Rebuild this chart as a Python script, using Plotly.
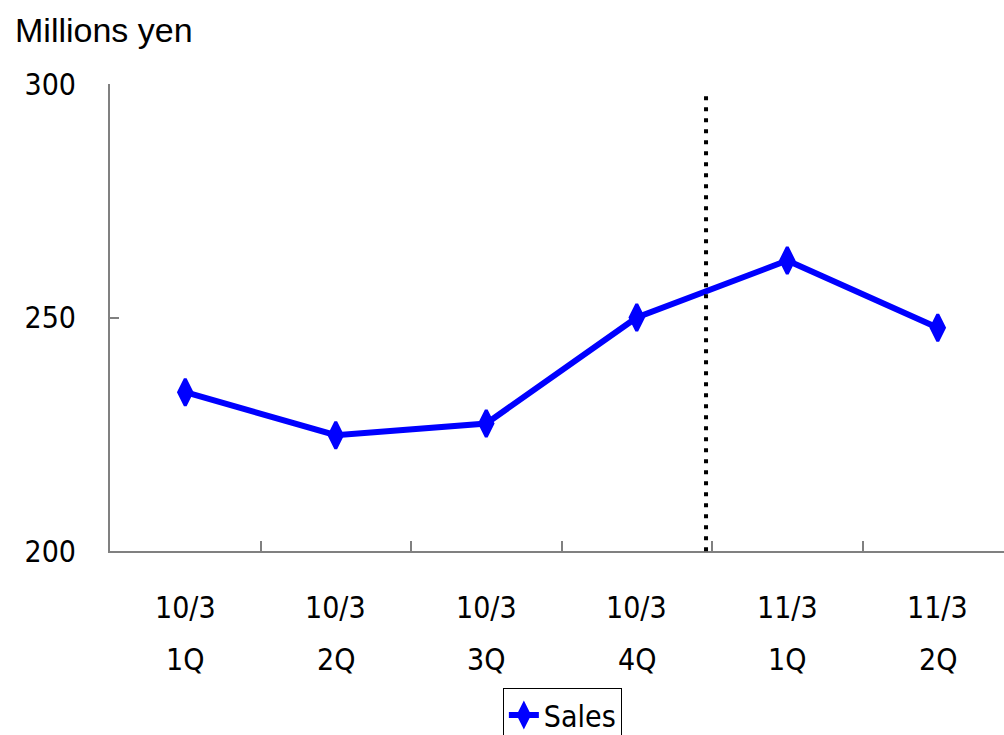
import plotly.graph_objects as go

# Quarterly sales, millions of yen
periods = ["10/3", "10/3", "10/3", "10/3", "11/3", "11/3"]
quarters = ["1Q", "2Q", "3Q", "4Q", "1Q", "2Q"]
sales = [234.0, 224.8, 227.3, 250.0, 262.2, 247.8]
y_ticks = [200, 250, 300]

cats = [f"{p} {q}" for p, q in zip(periods, quarters)]

NARROW = "DejaVu Sans Condensed, Liberation Sans Narrow, sans-serif"
AXIS_GRAY = "#808080"
LABEL_SIZE = 30

fig = go.Figure()
fig.add_trace(go.Scatter(
    x=cats, y=sales, name="Sales", mode="lines+markers",
    line=dict(color="#0000FF", width=6),
    marker=dict(symbol="diamond-tall", size=19, color="#0000FF",
                line=dict(color="#0000FF", width=3)),
    cliponaxis=False,
))

# Two-line category labels under the axis
annotations = []
for c, p, q in zip(cats, periods, quarters):
    annotations.append(dict(x=c, y=-0.122, xref="x", yref="paper", text=p,
                            showarrow=False, xanchor="center", yanchor="middle",
                            font=dict(family=NARROW, size=LABEL_SIZE, color="black")))
    annotations.append(dict(x=c, y=-0.233, xref="x", yref="paper", text=q,
                            showarrow=False, xanchor="center", yanchor="middle",
                            font=dict(family=NARROW, size=LABEL_SIZE, color="black")))
annotations.append(dict(x=-0.109, y=1.1156, xref="paper", yref="paper",
                        text="Millions yen", showarrow=False,
                        xanchor="left", yanchor="middle",
                        font=dict(family="Liberation Sans, Arial, sans-serif",
                                  size=34, color="black")))

fig.update_layout(
    width=1004, height=735, autosize=False,
    margin=dict(l=110, r=0, t=84, b=184),
    plot_bgcolor="white", paper_bgcolor="white",
    showlegend=True,
    legend=dict(orientation="h", x=0.506, xanchor="center",
                yref="container", y=1 - 688 / 735, yanchor="top",
                bgcolor="white", bordercolor="black", borderwidth=1,
                font=dict(family=NARROW, size=LABEL_SIZE, color="black")),
    annotations=annotations,
    shapes=[dict(type="line", xref="paper", yref="paper",
                 x0=0.6667, x1=0.6667, y0=0.974, y1=-0.015,
                 line=dict(color="black", width=4, dash="4px,7px"))],
)

fig.update_xaxes(
    type="category", range=[-0.5, 5.44],
    showline=True, linecolor=AXIS_GRAY, linewidth=2,
    ticks="inside", tickson="boundaries", ticklen=10, tickwidth=1.5,
    tickcolor=AXIS_GRAY, showticklabels=False, showgrid=False, zeroline=False,
)
fig.update_yaxes(
    range=[200, 300], tickvals=y_ticks,
    showline=True, linecolor=AXIS_GRAY, linewidth=2,
    ticks="inside", ticklen=9, tickwidth=1.5, tickcolor=AXIS_GRAY,
    ticklabelstandoff=26, showgrid=False, zeroline=False,
    tickfont=dict(family=NARROW, size=LABEL_SIZE, color="black"),
)

fig.write_html("out.html")
